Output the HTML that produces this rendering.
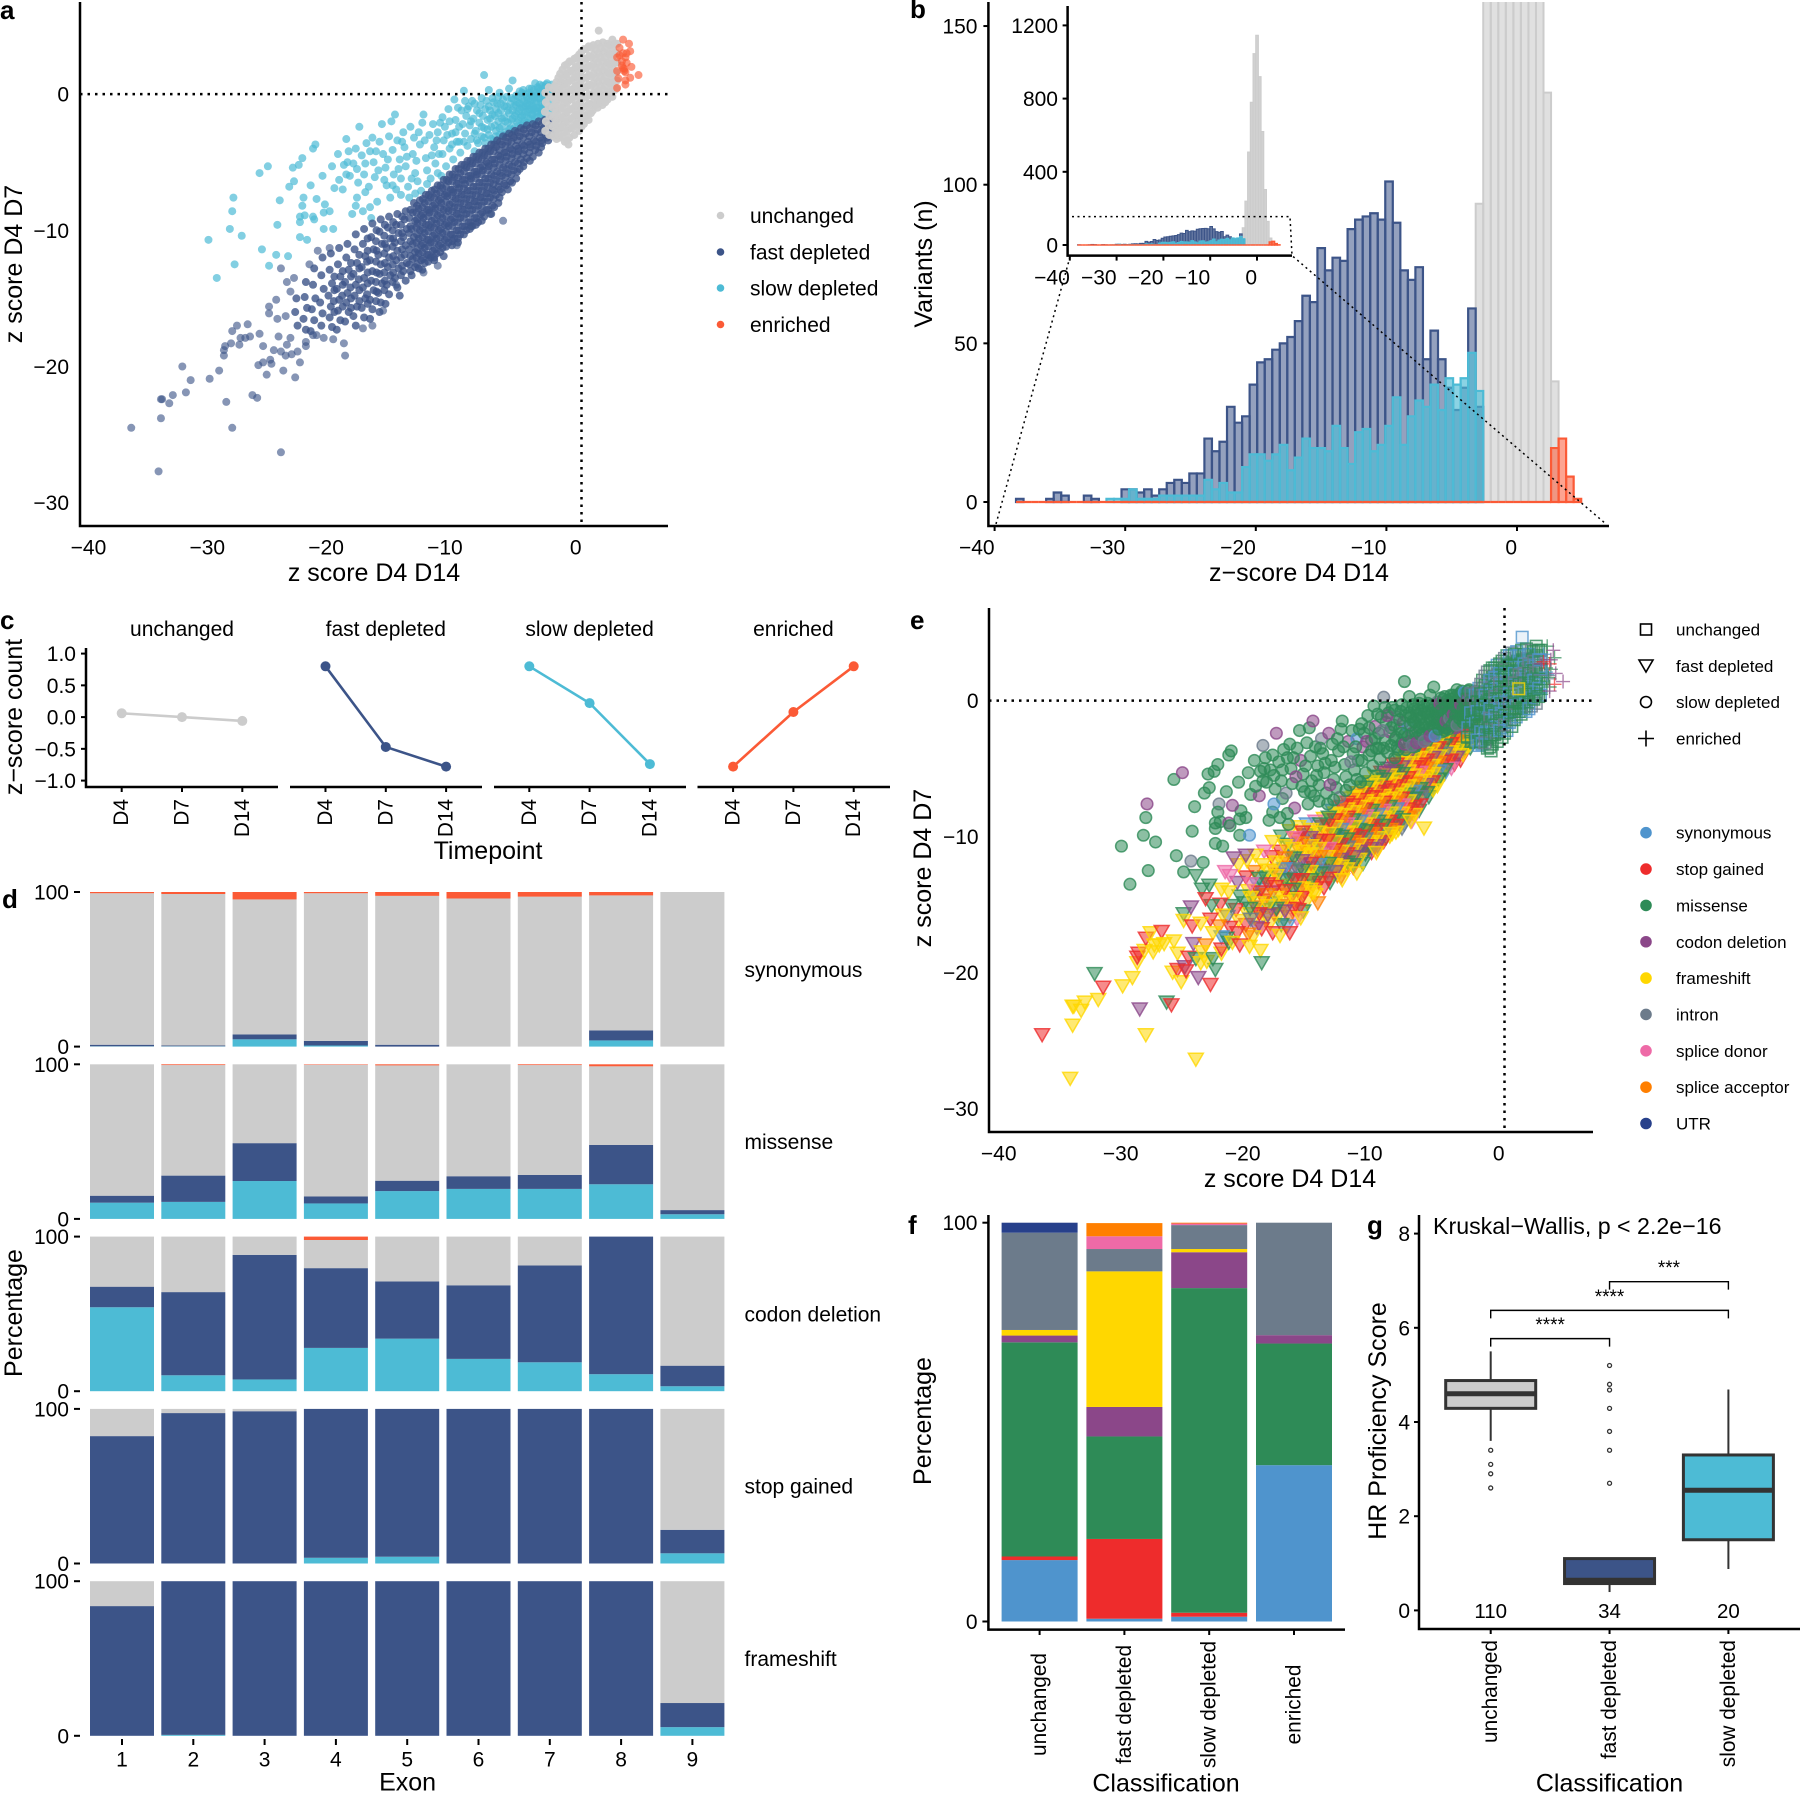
<!DOCTYPE html>
<html lang="en">
<head>
<meta charset="utf-8">
<title>Variant classification figure</title>
<style>
html,body{margin:0;padding:0;background:#fff;}
#figure{position:absolute;left:0;top:0;font-family:"Liberation Sans",sans-serif;fill:#000;}
.tl{font-size:25px;}
.lg{font-size:21px;}
.lg2{font-size:17px;}
.pl{font-size:26px;font-weight:bold;}
.ax{stroke:#000;stroke-width:2.5;fill:none;}
.dot{stroke:#000;stroke-width:2.5;stroke-dasharray:2.5 5;fill:none;}
.dot2{stroke:#000;stroke-width:1.5;stroke-dasharray:2 3.5;fill:none;}
</style>
</head>
<body>
<svg id="figure" width="1800" height="1793" viewBox="0 0 1800 1793" xmlns="http://www.w3.org/2000/svg">
<defs><clipPath id="histClip"><rect x="988" y="2" width="625" height="524"/></clipPath></defs>

<g id="pa">
<text class="pl" x="0" y="19">a</text>
<g id="paPts"></g>
<line class="dot" x1="80" y1="94.1" x2="668" y2="94.1"/>
<line class="dot" x1="581.5" y1="2" x2="581.5" y2="526"/>
<path class="ax" d="M80 2V526H668"/>
<text class="tl" x="374" y="573" text-anchor="middle" dominant-baseline="central">z score D4 D14</text>
<text class="tl" transform="translate(14,264) rotate(-90)" text-anchor="middle" dominant-baseline="central">z score D4 D7</text>
<g>
<circle cx="720.5" cy="215.5" r="3.8" fill="#cccccc"/>
<text class="lg" x="750" y="216.5" dominant-baseline="central">unchanged</text>
<circle cx="720.5" cy="252" r="3.8" fill="#3c5488"/>
<text class="lg" x="750" y="253" dominant-baseline="central">fast depleted</text>
<circle cx="720.5" cy="288" r="3.8" fill="#4dbbd5"/>
<text class="lg" x="750" y="289" dominant-baseline="central">slow depleted</text>
<circle cx="720.5" cy="324.5" r="3.8" fill="#fb5a36"/>
<text class="lg" x="750" y="325.5" dominant-baseline="central">enriched</text>
</g>
</g>

<g id="pb">
<text class="pl" x="910" y="18">b</text>
<g id="pbBars" clip-path="url(#histClip)"></g>
<g id="pbInset"></g>
<path class="dot2" d="M1072 216.6H1290L1292 255.6L1606 524M1070 257L996 524"/>
<path class="ax" d="M988.4 2V526H1609"/>
<path class="ax" d="M1067.6 6V255.6H1292"/>
<text class="tl" x="1299" y="573" text-anchor="middle" dominant-baseline="central">z−score D4 D14</text>
<text class="tl" transform="translate(924,264) rotate(-90)" text-anchor="middle" dominant-baseline="central">Variants (n)</text>
</g>

<g id="pc">
<text class="pl" x="0" y="629">c</text>
<path class="ax" d="M86 648V787H278M290 787H482M494 787H686M697.5 787H890"/>
<text class="tl" x="488" y="851" text-anchor="middle" dominant-baseline="central">Timepoint</text>
<text class="tl" transform="translate(14,717) rotate(-90)" text-anchor="middle" dominant-baseline="central">z−score count</text>
</g>

<g id="pd">
<text class="pl" x="2" y="908">d</text>
<text class="tl" transform="translate(14,1313) rotate(-90)" text-anchor="middle" dominant-baseline="central">Percentage</text>
<text class="tl" x="407.6" y="1782.5" text-anchor="middle" dominant-baseline="central">Exon</text>
</g>

<g id="pe">
<text class="pl" x="910" y="629">e</text>
<g id="pePts"></g>
<line class="dot" x1="989" y1="700.6" x2="1593" y2="700.6"/>
<line class="dot" x1="1504.5" y1="608" x2="1504.5" y2="1132"/>
<path class="ax" d="M989 608V1132H1593"/>
<text class="tl" x="1290" y="1179" text-anchor="middle" dominant-baseline="central">z score D4 D14</text>
<text class="tl" transform="translate(923,868) rotate(-90)" text-anchor="middle" dominant-baseline="central">z score D4 D7</text>
<g fill="none" stroke="#000" stroke-width="1.6">
<rect x="1640.5" y="624" width="11" height="11"/>
<path d="M1639 660L1653 660L1646 672Z"/>
<circle cx="1646" cy="702" r="5.5"/>
<path d="M1638 738.5H1654M1646 730.5V746.5"/>
</g>
<g class="lg2">
<text x="1676" y="630" dominant-baseline="central">unchanged</text>
<text x="1676" y="666.3" dominant-baseline="central">fast depleted</text>
<text x="1676" y="702.5" dominant-baseline="central">slow depleted</text>
<text x="1676" y="739" dominant-baseline="central">enriched</text>
</g>
<g id="peLegend" class="lg2"></g>
</g>

<g id="pf">
<text class="pl" x="908" y="1234">f</text>
<path class="ax" d="M988.4 1215V1629.6H1345"/>
<text class="tl" x="1166" y="1783.5" text-anchor="middle" dominant-baseline="central">Classification</text>
<text class="tl" transform="translate(923,1421) rotate(-90)" text-anchor="middle" dominant-baseline="central">Percentage</text>
</g>

<g id="pg">
<text class="pl" x="1367" y="1234">g</text>
<path class="ax" d="M1419 1215V1629H1800"/>
<text x="1433" y="1226" font-size="23.2" dominant-baseline="central">Kruskal−Wallis, p &lt; 2.2e−16</text>
<text class="tl" x="1609.5" y="1783.5" text-anchor="middle" dominant-baseline="central">Classification</text>
<text class="tl" transform="translate(1378,1421) rotate(-90)" text-anchor="middle" dominant-baseline="central">HR Proficiency Score</text>
</g>
</svg>

<script>
// ---------- shared categories ----------
const classColors = {unchanged:'#cccccc', fast:'#3c5488', slow:'#4dbbd5', enriched:'#fb5a36'};
const typeNames = ['synonymous','stop gained','missense','codon deletion','frameshift','intron','splice donor','splice acceptor','UTR'];
const typeColors = ['#4f94cd','#ee2c2c','#2e8b57','#8b4789','#ffd700','#6c7b8b','#ee6aa7','#ff7f00','#27408b'];

// ---------- panels a / e : z score D4 D14, z score D4 D7, (type) ----------
const fastSparse = [
-37.9,-24.5,1,-35.6,-27.7,4,-25.3,-26.3,4,-29.4,-24.5,4,-35.4,-23.8,4,-35.4,-22.4,4,-35.3,-22.4,4,-34.7,-22.7,4,-34.4,-22.1,4,-33.3,-21.9,4,-32.9,-21,1,-33.6,-20,2,-31.3,-20.9,4,-30.5,-20.3,4,-29.9,-22.6,3,-27.7,-22.1,2,-27.3,-22.3,1,
-30.1,-19.2,4,-30.1,-18.8,1,-30,-18.5,1,-29.5,-18.3,4,-29.4,-17.4,1,-29,-17,4,-28.1,-16.9,1,-28.8,-18.4,4,-28.7,-17.9,4,-28.3,-17.9,4,-27.9,-17.8,4,-27.1,-17.6,4,-26.8,-18.5,4,-27.2,-19.9,4,-26.8,-19.7,1,-26.5,-20.6,4,-26.2,-19.5,3,-26.1,-19.8,1,-25.1,-20.3,3,-24.1,-20.8,1,-23.7,-19.7,2,
-25.9,-18.8,1,-25.3,-18.9,2,-24.9,-19.2,4,-24.4,-19.1,4,-23.9,-18.9,2,-25.5,-17.8,3,-24.5,-17.9,7,-24.8,-18.4,4,-23.2,-18.5,4,-23.2,-18.2,1,-22.6,-17.7,2,-22.3,-17.7,4,-21.7,-17.9,1,-20.9,-18,4,-20,-18.3,4,-19.9,-19.2,2,
-26.3,-15.6,2,-26.3,-16.1,4,-25.7,-15.1,3,-25.6,-16.5,1,-24.9,-16.3,4,-24.8,-13.8,2,-24.2,-13.5,2,-25.3,-12.8,2,-24.5,-14.5,1,-22.9,-12.5,6,-22.2,-11.5,3,-21.2,-11.3,3,-18.4,-17.2,4,-17.6,-17,1,
-6.6,-9.3,4,-9.3,-9.7,4,-7.7,-8.8,4,-10.5,-11.1,4,-12.1,-12.6,4,-13.3,-13.1,4,-15.6,-14,4,-16.7,-15.9,4
];
const fastCore = [
-2.6,-1.8,-2.7,-2.3,-2.5,-2.9,-2.8,-3.4,-3.1,-1.9,-3.2,-2.5,-3,-3,-3.3,-3.6,-3.6,-2,-3.7,-2.6,-3.5,-3.2,-3.8,-3.8,-3.6,-4.3,
-4.1,-2.2,-4.2,-2.8,-4,-3.4,-4.3,-3.9,-4.1,-4.6,-4.6,-2.3,-4.7,-2.9,-4.5,-3.5,-4.8,-4.1,-4.6,-4.7,-4.9,-5.3,
-5.1,-2.5,-5.2,-3.1,-5,-3.7,-5.3,-4.2,-5.1,-4.8,-5.2,-5.5,-5.6,-2.7,-5.7,-3.2,-5.5,-3.8,-5.8,-4.4,-5.6,-5,-5.7,-5.6,-5.5,-6.2,
-6.1,-2.9,-6.2,-3.5,-6,-4,-6.3,-4.6,-6.1,-5.2,-6.2,-5.8,-6,-6.4,-6.2,-7,-6.6,-3.1,-6.7,-3.7,-6.5,-4.3,-6.8,-4.8,-6.6,-5.4,-6.7,-6,-6.5,-6.6,-6.7,-7.2,
-7.1,-3.4,-7.2,-3.9,-7,-4.5,-7.3,-5.1,-7.1,-5.7,-7.2,-6.3,-7,-6.8,-7.2,-7.4,-7,-8,-7.6,-3.7,-7.7,-4.2,-7.5,-4.8,-7.8,-5.3,-7.6,-5.9,-7.7,-6.5,-7.5,-7,-7.7,-7.6,-7.5,-8.2,-7.6,-8.8,
-8.1,-4,-8.2,-4.5,-8,-5,-8.3,-5.6,-8.1,-6.2,-8.2,-6.8,-8,-7.3,-8.2,-7.9,-8,-8.5,-8.2,-9,-8.6,-4.3,-8.7,-4.8,-8.5,-5.4,-8.8,-5.9,-8.6,-6.5,-8.7,-7.1,-8.5,-7.6,-8.7,-8.2,-8.5,-8.8,-8.7,-9.4,
-9.1,-4.6,-9.2,-5.1,-9,-5.7,-9.3,-6.2,-9.1,-6.8,-9.2,-7.4,-9,-7.9,-9.2,-8.5,-9,-9.1,-9.2,-9.7,-9.6,-4.9,-9.7,-5.4,-9.5,-6,-9.8,-6.6,-9.6,-7.1,-9.7,-7.7,-9.5,-8.2,-9.7,-8.8,-9.5,-9.4,-9.7,-10,
-10.1,-5.2,-10.2,-5.8,-10,-6.3,-10.3,-6.9,-10.1,-7.4,-10.2,-8,-10,-8.5,-10.2,-9.1,-10,-9.7,-10.2,-10.3,-10.4,-10.9,-10.6,-5.5,-10.7,-6.1,-10.5,-6.6,-10.8,-7.2,-10.6,-7.7,-10.7,-8.3,-10.5,-8.8,-10.7,-9.4,-10.5,-10,-10.7,-10.6,-10.9,-11.1,
-11.1,-5.9,-11.2,-6.4,-11,-7,-11.3,-7.5,-11.1,-8.1,-11.2,-8.6,-11,-9.2,-11.2,-9.7,-11,-10.3,-11.2,-10.9,-11.6,-6.3,-11.7,-6.9,-11.5,-7.4,-11.8,-8,-11.6,-8.5,-11.7,-9.1,-11.5,-9.6,-11.7,-10.2,-11.5,-10.7,-11.7,-11.3,-11.6,-11.9,
-12.1,-6.7,-12.2,-7.3,-12,-7.8,-12.3,-8.4,-12.1,-8.9,-12.2,-9.5,-12,-10,-12.2,-10.6,-12,-11.1,-12.2,-11.7,-12.4,-12.2,-12.6,-7.1,-12.7,-7.6,-12.5,-8.2,-12.8,-8.7,-12.6,-9.3,-12.7,-9.8,-12.5,-10.4,-12.7,-10.9,-12.5,-11.5,-12.7,-12,
-13.1,-7.4,-13.2,-8,-13,-8.5,-13.3,-9.1,-13.1,-9.6,-13.2,-10.2,-13,-10.7,-13.2,-11.3,-13,-11.8,-13.2,-12.4,-13.4,-12.9,-13.6,-7.8,-13.7,-8.4,-13.5,-8.9,-13.8,-9.5,-13.6,-10,-13.7,-10.6,-13.5,-11.1,-13.7,-11.7,-13.5,-12.2,-13.7,-12.8,
-14.1,-8,-14.2,-8.7,-14,-9.3,-14.3,-9.9,-14.1,-10.5,-14.2,-11,-14,-11.6,-14.2,-12.1,-14,-12.7,-14.3,-13.3,-14.8,-8.6,-14.9,-9.2,-14.7,-9.9,-15,-10.5,-14.8,-11.1,-14.9,-11.8,-14.7,-12.4,-15,-13,-14.8,-13.7,
-15.5,-8.8,-15.6,-9.6,-15.4,-10.2,-15.7,-10.9,-15.5,-11.5,-15.6,-12.2,-15.4,-12.8,-15.7,-13.5,-15.5,-14.2,-15.3,-14.8,-16.2,-9,-16.3,-9.8,-16.1,-10.6,-16.4,-11.3,-16.2,-12,-16.3,-12.7,-16.1,-13.3,-16.4,-14,-16.2,-14.7,-16.5,-15.4,
-16.9,-9.2,-17,-10.1,-16.8,-11,-17.1,-11.8,-16.9,-12.5,-17,-13.2,-16.8,-13.9,-17.1,-14.6,-16.9,-15.3,-17,-16,-17.6,-9.5,-17.7,-10.5,-17.5,-11.4,-17.8,-12.2,-17.6,-13,-17.7,-13.7,-17.5,-14.4,-17.8,-15.1,-17.6,-15.8,-17.8,-16.5,
-18.3,-9.9,-18.4,-11,-18.2,-11.9,-18.5,-12.7,-18.3,-13.5,-18.4,-14.2,-18.2,-15,-18.5,-15.7,-18.3,-16.4,-19,-10.3,-19.1,-11.4,-18.9,-12.4,-19.2,-13.2,-19,-14,-19.1,-14.8,-18.9,-15.6,-19.2,-16.3,-19,-17,
-19.7,-11,-19.8,-12,-19.6,-12.9,-19.9,-13.8,-19.7,-14.6,-19.8,-15.3,-19.6,-16,-19.9,-16.7,-20.4,-11.3,-20.5,-12.5,-20.3,-13.4,-20.6,-14.3,-20.4,-15.1,-20.5,-15.9,-20.3,-16.6,-20.6,-17.3,
-21.1,-11.7,-21.2,-12.9,-21,-13.9,-21.3,-14.8,-21.1,-15.6,-21.2,-16.4,-21,-17.1,-21.8,-12,-21.9,-13.3,-21.7,-14.3,-22,-15.3,-21.8,-16.1,-21.9,-17,
-22.5,-12.8,-22.6,-14,-22.4,-15,-22.7,-15.8,-22.5,-16.6,-22.8,-17.4,-23.2,-13.8,-23.3,-14.9,-23.1,-15.7,-23.4,-16.5,-23.2,-17.3,-24,-15,-24.1,-16,-23.9,-17,
-2.85,-2.1,-2.85,-2.7,-2.9,-3.2,-3.35,-2.2,-3.4,-2.8,-3.35,-3.4,-3.4,-3.9,-3.85,-2.3,-3.9,-2.9,-3.85,-3.5,-3.9,-4.1,-4.35,-2.5,-4.4,-3.1,-4.35,-3.7,-4.4,-4.3,-4.35,-4.9,
-4.85,-2.6,-4.9,-3.2,-4.85,-3.8,-4.9,-4.4,-4.85,-5,-5.35,-2.8,-5.4,-3.4,-5.35,-4,-5.4,-4.5,-5.35,-5.1,-5.4,-5.7,-5.85,-3,-5.9,-3.5,-5.85,-4.1,-5.9,-4.7,-5.85,-5.3,-5.9,-5.9,-5.85,-6.5,
-6.35,-3.2,-6.4,-3.8,-6.35,-4.3,-6.4,-4.9,-6.35,-5.5,-6.4,-6.1,-6.35,-6.7,-6.85,-3.5,-6.9,-4.1,-6.85,-4.6,-6.9,-5.2,-6.85,-5.8,-6.9,-6.4,-6.85,-7,-6.9,-7.6,
-7.35,-3.7,-7.4,-4.2,-7.35,-4.8,-7.4,-5.4,-7.35,-6,-7.4,-6.6,-7.35,-7.1,-7.4,-7.7,-7.35,-8.3,-7.85,-4,-7.9,-4.5,-7.85,-5.1,-7.9,-5.6,-7.85,-6.2,-7.9,-6.8,-7.85,-7.3,-7.9,-7.9,-7.85,-8.5,
-8.35,-4.3,-8.4,-4.8,-8.35,-5.3,-8.4,-5.9,-8.35,-6.5,-8.4,-7.1,-8.35,-7.6,-8.4,-8.2,-8.35,-8.7,-8.4,-9.3,-8.85,-4.6,-8.9,-5.1,-8.85,-5.7,-8.9,-6.2,-8.85,-6.8,-8.9,-7.4,-8.85,-7.9,-8.9,-8.5,-8.85,-9.1,-8.9,-9.6,
-9.35,-4.9,-9.4,-5.4,-9.35,-6,-9.4,-6.5,-9.35,-7.1,-9.4,-7.7,-9.35,-8.2,-9.4,-8.8,-9.35,-9.4,-9.4,-9.9,-9.85,-5.2,-9.9,-5.7,-9.85,-6.3,-9.9,-6.9,-9.85,-7.4,-9.9,-8,-9.85,-8.5,-9.9,-9.1,-9.85,-9.7,-9.9,-10.3,
-10.35,-5.5,-10.4,-6.1,-10.35,-6.6,-10.4,-7.2,-10.35,-7.7,-10.4,-8.3,-10.35,-8.8,-10.4,-9.4,-10.35,-10,-10.4,-10.6,-10.85,-5.9,-10.9,-6.4,-10.85,-7,-10.9,-7.5,-10.85,-8,-10.9,-8.6,-10.85,-9.1,-10.9,-9.7,-10.85,-10.3,-10.9,-10.8,
-11.35,-6.3,-11.4,-6.8,-11.35,-7.3,-11.4,-7.9,-11.35,-8.4,-11.4,-9,-11.35,-9.5,-11.4,-10.1,-11.35,-10.6,-11.4,-11.2,-11.85,-6.7,-11.9,-7.2,-11.85,-7.7,-11.9,-8.3,-11.85,-8.8,-11.9,-9.4,-11.85,-9.9,-11.9,-10.5,-11.85,-11,-11.9,-11.6,
-12.35,-7,-12.4,-7.6,-12.35,-8.1,-12.4,-8.7,-12.35,-9.2,-12.4,-9.8,-12.35,-10.3,-12.4,-10.9,-12.35,-11.4,-12.4,-12,-12.85,-7.4,-12.9,-7.9,-12.85,-8.5,-12.9,-9,-12.85,-9.6,-12.9,-10.1,-12.85,-10.7,-12.9,-11.2,-12.85,-11.8,-12.9,-12.3,
-13.35,-7.7,-13.4,-8.3,-13.35,-8.8,-13.4,-9.4,-13.35,-9.9,-13.4,-10.5,-13.35,-11,-13.4,-11.6,-13.35,-12.1,-13.85,-8.2,-13.9,-8.7,-13.85,-9.2,-13.9,-9.8,-13.85,-10.3,-13.9,-10.9,-13.85,-11.4,-13.9,-12,-13.85,-12.5,
-14.4,-8.5,-14.5,-9.1,-14.4,-9.7,-14.5,-10.2,-14.4,-10.8,-14.5,-11.4,-14.4,-11.9,-14.5,-12.5,-14.4,-13,-15.1,-9,-15.2,-9.6,-15.1,-10.2,-15.2,-10.8,-15.1,-11.4,-15.2,-12,-15.1,-12.6,-15.2,-13.3,
-15.85,-9.4,-15.9,-10,-15.85,-10.6,-15.9,-11.2,-15.85,-11.9,-15.9,-12.5,-15.85,-13.1,-15.9,-13.8,-16.55,-9.6,-16.6,-10.4,-16.55,-11,-16.6,-11.7,-16.55,-12.4,-16.6,-13.1,-16.55,-13.7,-16.6,-14.4,
-17.25,-10,-17.3,-10.8,-17.25,-11.5,-17.3,-12.3,-17.25,-13.1,-17.3,-13.8,-17.25,-14.5,-17.3,-15.2,-18,-10.6,-18,-11.5,-18.05,-12.3,-18,-13.1,-18,-13.9,-18.05,-14.7,-18,-15.4,
-18.7,-11.8,-18.7,-12.8,-18.75,-13.6,-18.7,-14.4,-18.7,-15.2,-19.4,-12.4,-19.4,-13.4,-19.45,-14.2,-19.4,-15,-19.4,-15.7,-20.1,-13,-20.1,-14,-20.15,-14.8,-20.1,-15.6,-20.8,-13.4,-20.8,-14.4,-20.85,-15.2,-20.8,-16
];
const fastCoreTypes = '41424174321416425124147021434';
const slowPoints = [
-30.7,-13.5,-31.4,-10.7,-29.6,-9.9,-29.4,-8.6,-29.3,-7.6,-28.6,-10.4,-29.2,-12.5,-26.9,-11.4,-26.3,-12.6,-25.7,-11.8,-24.7,-11.9,-25.6,-9.6,-25.4,-7.8,-27.1,-5.8,-26.4,-5.3,-24.6,-6.8,-24.2,-6.4,-24.3,-5.4,-23.8,-5.2,-23.5,-4.7,-23.4,-7.6,-23.5,-8.2,-23.7,-9,-23.7,-9.4,-23.3,-8.9,-22.6,-9,-22.5,-9.2,-23.7,-10.5,-23.1,-10.7,-21.7,-9.9,-20.9,-9.9,-21.7,-8.7,-21.2,-8.6,-21.6,-8.1,-22.3,-7.7,-22.8,-6.7,-22.4,-3.7,-22.6,-4,-21.8,-6,-21,-5.3,-20.5,-4.4,-20.8,-6.9,-20.1,-7,-20.4,-6.3,-20,-5.2,-19.7,-5,-19.8,-5.9,
-19.8,-3.3,-19.6,-4.2,-19.2,-5.1,-19.5,-6,-18.9,-5.5,-18.7,-2.4,-18.5,-4.5,-18.8,-6.5,-18.3,-5.9,-18.1,-3.6,-18.2,-7.2,-17.9,-6.8,-17.8,-4.2,-17.6,-3.2,-17.5,-5,-17.4,-6.1,-17.2,-7.9,-17.8,-8.3,-19,-8.2,-19.3,-8.8,-18.4,-8.6,-18.9,-7.6,-17.7,-9.1,
-17,-3.5,-16.8,-2.2,-16.7,-4.4,-16.5,-5.4,-16.4,-6.7,-16.2,-3.1,-16.1,-7.6,-16,-2,-15.9,-4.1,-15.8,-5.9,-15.7,-1.5,-15.6,-7,-15.5,-3.4,-15.3,-4.8,-15.2,-6.2,-15,-2.8,-14.9,-3.9,-14.8,-5.3,-14.6,-6.8,-14.5,-7.6,-14.4,-2.4,-14.2,-4.4,-14.1,-3.2,-14,-5.8,-13.8,-6.4,-13.6,-3.7,-13.5,-7.1,-13.4,-2.1,-13.3,-1.5,-13.1,-4.7,-13,-5.6,-12.8,-3,-12.7,-6.2,-12.5,-2.2,-12.4,-3.9,-12.3,-5.1,-12.1,-2.8,-12,-4.4,-11.8,-6,-11.7,-1.7,-11.6,-3.4,-11.5,-2.4,-11.4,-5.3,-11.2,-1.1,-11.1,-4,-10.9,-2.9,-10.8,-4.8,-10.7,-.4,-10.6,-1.9,-10.5,-3.5,-10.3,-2.4,-10.2,-4.3,-10.1,-1.2,
-9.9,.25,-9.8,-2.9,-9.7,-1.6,-9.6,-3.8,-9.5,-.9,-9.4,-2.3,-9.3,-3.3,-9.2,-.5,-9.1,-1.8,-9,-4.2,-8.9,-2.7,-8.8,-1.2,-8.7,-3.6,-8.6,-2.1,-8.5,-.8,-8.4,-3.1,-8.3,-1.6,-8.2,1.4,-8.2,-2.5,-8.1,-3.6,-8,-.5,-7.9,-1.9,-7.8,.3,-7.8,-3,-7.7,-1.2,-7.6,-2.4,-7.5,-.3,-7.4,-3.4,-7.3,-1.6,-7.2,-2.7,-7.1,-.7,-7,-2,-6.9,.1,-6.9,-3,-6.8,-1.2,-6.7,-2.4,-6.6,-.4,-6.5,-1.7,-6.4,-2.8,-6.3,-.9,-6.2,-2.1,-6.1,.4,-6.1,-1.4,-6,-2.5,-5.9,-.3,-5.8,1,-5.8,-1.8,-5.7,-.9,-5.6,-2.4,-5.5,-.1,-5.5,-1.4,-5.4,-.6,-5.3,-1.9,-5.2,.2,-5.2,-1.1,-5.1,-2.3,-5,-.4,-5,-1.6,-4.9,.3,-4.9,-.9,-4.8,-2,-4.7,-1.3,-4.6,-.2,-4.6,-.7,-4.5,-1.8,-4.4,.1,-4.4,-1.1,-4.3,-.5,-4.2,-1.5,-4.2,.4,-4.1,-.9,-4,-2,-4,-.2,-3.9,.8,-3.9,-1.3,-3.8,.1,-3.8,-.6,-3.7,-1.7,-3.6,.4,-3.6,-1,-3.5,.7,-3.5,-.3,-3.4,-1.4,-3.3,.2,-3.3,-.7,-3.2,-1.1,-3.1,.5,-3.1,-.1,-3,-.5,-3,-1.5,-2.9,.8,-2.9,.2,-2.8,-.2,-2.8,-.9,-2.7,.5,-2.7,-1.3,-2.6,.1,-2.6,-.5,-2.5,.7,-2.5,-.1,-2.5,-1,
-9.6,-1.1,-9.3,-2,-9,-.7,-9,-2.9,-8.8,-3.4,-8.6,-1.4,-8.4,-.3,-8.4,-2.4,-8.2,-3.2,-8.1,-1.1,-7.9,-2.6,-7.8,-.9,-7.7,-1.8,-7.6,-3.3,-7.5,-1.5,-7.4,-.6,-7.3,-2.3,-7.2,-1.1,-7.2,-3.1,-7,-.2,-7,-1.4,-6.9,-2.5,-6.8,-.7,-6.7,-1.8,-6.6,-3,-6.5,-.9,-6.4,-2,-6.3,-.2,-6.2,-1.2,-6.1,-2.6,-6,-.7,-5.9,-1.9,-5.8,-1.2,-5.7,-.4,-5.7,-2.6,-5.6,-1.6,-5.5,-.8,-5.4,-2.1,-5.3,-.2,-5.3,-1.3,-5.2,-.7,-5.1,-1.7,-5,.1,-5,-1,-4.9,-2.2,-4.8,-.5,-4.8,-1.5,-4.7,0,-4.7,-.9,-4.6,-2.1,-4.5,-.4,-4.5,-1.3,-4.4,.4,-4.4,-.8,-4.3,-1.8,-4.2,-.1,-4.2,-1,-4.1,-.4,-4.1,-1.5,-4,.3,-4,-1.1,-3.9,-.5,-3.9,-1.8,-3.8,-.1,-3.8,-1,-3.7,.5,-3.7,-1.3,-3.6,-.3,-3.5,-1.1,-3.5,.2,-3.4,-.6,-3.4,-1.6,-3.3,.6,-3.3,-1.1,-3.2,-.3,-3.2,-1.4,-3.1,.1,-3.1,-.8,-3,.7,
-17.3,-4.2,-16.3,-4.8,-15.4,-5.5,-15.1,-3.5,-14.7,-4.6,-14.3,-6.2,-13.9,-4.9,-13.7,-2.8,-13.2,-3.4,-13,-6.6,-12.6,-4.5,-12.2,-3.4,-12.1,-5.8,-11.9,-2.1,-11.7,-4.4,-11.3,-3,-11.1,-2,-10.9,-3.7,-10.6,-2.8,-10.4,-1,-10.3,-3.5,-10,-2.2,-9.9,-3.5,-9.8,-.5,-19,-4,-18.2,-5.1,-17.1,-5.6,-16.6,-6.3,-15.9,-6.7,-15.2,-7.4,-14,-7.3
];
const slowTypes = '22223222252222322222522223222202223222';
const unchangedPoints = [
-3.05,.1,-3,-.6,-3.08,-1.3,-3,-2,-3.05,-2.7,-2.75,.5,-2.72,-.2,-2.78,-.9,-2.7,-1.6,-2.76,-2.3,-2.72,-3,
-2.4,.4,-2.35,-.3,-2.42,-1,-2.38,-1.7,-2.4,-2.4,-2.36,-3.1,-2.1,.9,-2.05,.2,-2.12,-.5,-2.08,-1.2,-2.1,-1.9,-2.06,-2.6,-2.1,-3.3,
-1.8,1.5,-1.75,.9,-1.82,.3,-1.78,-.4,-1.8,-1.1,-1.76,-1.8,-1.8,-2.5,-1.84,-3.2,-1.4,2.1,-1.35,1.4,-1.42,.7,-1.38,0,-1.4,-.7,-1.36,-1.4,-1.4,-2.1,-1.44,-2.8,-1.4,-3.5,
-1,2.4,-.95,1.7,-1.02,1,-.98,.3,-1,-.4,-.96,-1.1,-1,-1.8,-1.04,-2.5,-1,-3.2,-1.1,-3.7,-.6,2.6,-.55,1.9,-.62,1.2,-.58,.5,-.6,-.2,-.56,-.9,-.6,-1.6,-.64,-2.3,-.6,-3,
-.2,2.9,-.15,2.2,-.22,1.5,-.18,.8,-.2,.1,-.16,-.6,-.2,-1.3,-.24,-2,-.2,-2.7,.2,3.3,.25,2.6,.18,1.9,.22,1.2,.2,.5,.24,-.2,.2,-.9,.16,-1.6,.2,-2.2,
.6,3.5,.65,2.8,.58,2.1,.62,1.4,.6,.7,.64,0,.6,-.7,.56,-1.4,.6,-1.9,1,3.6,1.05,2.9,.98,2.2,1.02,1.5,1,.8,1.04,.1,1,-.6,.96,-1.2,
1.4,3.7,1.45,3,1.38,2.3,1.42,1.6,1.4,.9,1.44,.2,1.4,-.5,1.36,-1,1.45,4.66,1.8,3.8,1.85,3.1,1.78,2.4,1.82,1.7,1.8,1,1.84,.3,1.8,-.4,1.76,-.8,
2.2,3.7,2.25,3,2.18,2.3,2.22,1.6,2.2,.9,2.24,.2,2.2,-.4,2.6,4,2.65,3.3,2.58,2.6,2.62,1.9,2.6,1.2,2.64,.5,2.6,-.2,3,3.7,2.95,3,3,2.3,2.96,1.6,3,1,2.95,.4,
-2.25,.6,-2.25,-.1,-2.25,-.8,-2.25,-1.5,-2.25,-2.2,-2.25,-2.9,-1.95,1.2,-1.95,.5,-1.95,-.2,-1.95,-.9,-1.95,-1.6,-1.95,-2.3,-1.95,-3,
-1.6,1.8,-1.6,1.1,-1.6,.4,-1.6,-.3,-1.6,-1,-1.6,-1.7,-1.6,-2.4,-1.6,-3.1,-1.2,2.2,-1.2,1.5,-1.2,.8,-1.2,.1,-1.2,-.6,-1.2,-1.3,-1.2,-2,-1.2,-2.7,-1.2,-3.4,
-.8,2.4,-.8,1.7,-.8,1,-.8,.3,-.8,-.4,-.8,-1.1,-.8,-1.8,-.8,-2.5,-.4,2.7,-.4,2,-.4,1.3,-.4,.6,-.4,-.1,-.4,-.8,-.4,-1.5,-.4,-2.2,
0,3.1,0,2.4,0,1.7,0,1,0,.3,0,-.4,0,-1.1,0,-1.8,0,-2.4,.4,3.3,.4,2.6,.4,1.9,.4,1.2,.4,.5,.4,-.2,.4,-.9,.4,-1.6,
.8,3.4,.8,2.7,.8,2,.8,1.3,.8,.6,.8,-.1,.8,-.8,.8,-1.4,1.2,3.3,1.2,2.6,1.2,1.9,1.2,1.2,1.2,.5,1.2,-.2,1.2,-.8,
1.6,3.4,1.6,2.7,1.6,2,1.6,1.3,1.6,.6,1.6,-.1,1.6,-.6,2,3.4,2,2.7,2,2,2,1.3,2,.6,2,-.1,2,-.6,
2.4,3.6,2.4,2.9,2.4,2.2,2.4,1.5,2.4,.8,2.4,.1,2.8,3.7,2.8,3,2.8,2.3,2.8,1.6,2.8,.9,2.8,.3
];
const unchangedTypes = '22202520222052022052';
const unchangedFrameshift = [1.17,.87];
const enrichedPoints = [
3.5,4,4,3.7,4.1,3.15,3.2,3.4,3.5,3,3,2.7,3.7,2.7,3.4,2.4,3.8,2.3,4.2,2,3,1.7,3.5,1.9,3.7,1.6,4.8,1.4,4.1,1.2,3.7,1,3.1,1.15,3.7,.7,3,.45,3.4,2.1,3.6,1.85,3.8,3,3.2,2.85,3.6,1.7
];
const enrichedTypes = '23205312';
const aXTicks = [-40,-30,-20,-10,0];
const aXLabels = ['−40','−30','−20','−10','0'];
const aYTicks = [0,-10,-20,-30];
const aYLabels = ['0','−10','−20','−30'];

// ---------- panel b : histogram counts per bin ----------
const histStart = -38.36;
const histBinWidth = 0.577;
const fastCounts = [1,0,0,0,1,3,2,0,0,2,1,0,0,0,4,4,3,4,2,4,6,7,6,9,9,20,16,19,30,25,27,37,44,45,48,50,52,57,65,63,80,73,77,76,86,89,90,91,89,101,88,73,70,74,45,54,45,36,29,36,61,30,0,0,0,0,0,0,0,0,0,0,0,0,0];
const slowCounts = [0,0,0,0,0,0,0,0,0,0,0,0,1,1,1,4,1,1,1,2,2,2,2,2,2,7,4,6,3,3,11,15,15,13,15,18,10,14,20,17,17,16,24,17,12,22,23,16,18,24,33,18,27,32,30,37,29,39,37,39,47,35,0,0,0,0,0,0,0,0,0,0,0,0,0];
const unchangedCounts = [0,0,0,0,0,0,0,0,0,0,0,0,0,0,0,0,0,0,0,0,0,0,0,0,0,0,0,0,0,0,0,0,0,0,0,0,0,0,0,0,0,0,0,0,0,0,0,0,0,0,0,0,0,0,0,0,0,0,0,0,0,94,240,508,780,1046,1146,920,620,303,129,38,0,0,0];
const enrichedCounts = [0,0,0,0,0,0,0,0,0,0,0,0,0,0,0,0,0,0,0,0,0,0,0,0,0,0,0,0,0,0,0,0,0,0,0,0,0,0,0,0,0,0,0,0,0,0,0,0,0,0,0,0,0,0,0,0,0,0,0,0,0,0,0,0,0,0,0,0,0,0,0,17,20,8,1];
const bXTicks = [-40,-30,-20,-10,0];
const bXLabels = ['−40','−30','−20','−10','0'];
const bYTicks = [0,50,100,150];
const bInsetYTicks = [0,400,800,1200];

// ---------- panel c : mean z-score count per timepoint ----------
const cTimepoints = ['D4','D7','D14'];
const cFacets = ['unchanged','fast depleted','slow depleted','enriched'];
const cUnchanged = [0.06,0,-0.06];
const cFast = [0.8,-0.47,-0.78];
const cSlow = [0.8,0.22,-0.74];
const cEnriched = [-0.78,0.08,0.8];
const cYTicks = [1,0.5,0,-0.5,-1];
const cYLabels = ['1.0','0.5','0.0','−0.5','−1.0'];

// ---------- panel d : percent per exon ----------
const dExons = ['1','2','3','4','5','6','7','8','9'];
const dRows = ['synonymous','missense','codon deletion','stop gained','frameshift'];
const dSlow = [
[.2,.2,4.7,.7,0,0,0,4,0],
[10.5,11,24.5,10,18,19.4,19.4,22.4,3],
[54.3,10.3,7.6,28,34,20.9,18.7,11,3.2],
[0,0,0,3.7,4.4,0,0,0,6.6],
[0,.6,0,0,0,0,0,0,5.6]];
const dFast = [
[1,.5,3.2,3,1.2,0,0,6.5,0],
[4.5,17,24.5,4.5,6.7,8.2,9,25.4,2.7],
[13.3,53.8,80.6,51.6,37,47.6,62.6,89,13.3],
[82.4,97.3,98.5,96.3,95.6,100,100,100,15.2],
[83.9,99.4,100,100,100,100,100,100,15.6]];
const dEnriched = [
[.8,1.3,4.8,.8,2.5,4.2,3,2.2,0],
[0,.5,0,.3,.7,0,.5,1.3,0],
[0,0,0,2.2,0,0,0,0,0],
[0,0,0,0,0,0,0,0,0],
[0,0,0,0,0,0,0,0,0]];

// ---------- panel f : type composition per class (order of typeNames) ----------
const fClasses = ['unchanged','fast depleted','slow depleted','enriched'];
const fUnchanged = [15.4,.9,53.7,1.7,1.4,24.4,0,0,2.5];
const fFast = [.7,20,25.7,7.4,34,5.6,3.2,3.3,0];
const fSlow = [1.2,1,81.4,9,.8,6,.4,.2,0];
const fEnriched = [39.2,0,30.5,2.1,0,28.2,0,0,0];

// ---------- panel g : HR proficiency box plots ----------
const gClasses = ['unchanged','fast depleted','slow depleted'];
const gCounts = ['110','34','20'];
const gQ1 = [4.29,.57,1.5];
const gMedian = [4.6,.64,2.55];
const gQ3 = [4.88,1.1,3.3];
const gLow = [3.6,.39,.88];
const gHigh = [5.5,1.1,4.69];
const gOutliers = [[3.4,3.1,2.9,2.6],[5.2,4.8,4.68,4.29,3.8,3.4,2.7],[]];
const gYTicks = [0,2,4,6,8];
const gBracketFrom = [0,0,1];
const gBracketTo = [1,2,2];
const gBracketY = [5.77,6.37,6.98];
const gBracketStars = ['****','****','***'];

// ---------- helpers ----------
const NS = 'http://www.w3.org/2000/svg';
function add(parent, tag, attrs, txt) {
  const el = document.createElementNS(NS, tag);
  for (const k in attrs) el.setAttribute(k, attrs[k]);
  if (txt !== undefined) el.textContent = txt;
  parent.appendChild(el);
  return el;
}
function yAxis(g, prefix, vals, labels, scale, axisX, labelX, tickLen, fs) {
  vals.forEach((v, i) => {
    if (tickLen) {
      const t = add(g, 'line', {x1: axisX - tickLen, x2: axisX, y1: scale(v), y2: scale(v), stroke: '#000', 'stroke-width': 2});
      
      
    }
    const l = add(g, 'text', {x: labelX, y: scale(v) + 1, 'text-anchor': 'end', 'dominant-baseline': 'central', 'font-size': fs}, labels[i]);
    
    
  });
}
function xAxis(g, prefix, vals, labels, scale, axisY, labelY, tickLen, fs) {
  vals.forEach((v, i) => {
    if (tickLen) {
      const t = add(g, 'line', {x1: scale(v), x2: scale(v), y1: axisY, y2: axisY + tickLen, stroke: '#000', 'stroke-width': 2});
      
      
    }
    const l = add(g, 'text', {x: scale(v), y: labelY, 'text-anchor': 'end', 'dominant-baseline': 'central', 'font-size': fs}, labels[i]);
    
    
  });
}
function rotTick(g, prefix, x, axisY, labelY, anchor, label) {
  const t = add(g, 'line', {x1: x, x2: x, y1: axisY, y2: axisY + 5, stroke: '#000', 'stroke-width': 2});
  
  
  const l = add(g, 'text', {transform: 'translate(' + x + ',' + labelY + ') rotate(-90)', 'text-anchor': anchor, 'dominant-baseline': 'central', 'font-size': 20.8}, label);
  
  
}

// ---------- panel a ----------
const aX = z => 581.5 + 11.88 * z;
const aY = z => 94.1 - 13.62 * z;
const paPts = document.getElementById('paPts');
function dotsA(pts, step, color, opacity) {
  for (let i = 0; i < pts.length; i += step) {
    const c = add(paPts, 'circle', {cx: aX(pts[i]), cy: aY(pts[i + 1]), r: 4, fill: color, 'fill-opacity': opacity});
    
    
  }
}
dotsA(slowPoints, 2, classColors.slow, .7);
dotsA(fastCore, 2, classColors.fast, .8);
dotsA(fastSparse, 3, classColors.fast, .62);
dotsA(unchangedPoints, 2, classColors.unchanged, .95);
dotsA(enrichedPoints, 2, classColors.enriched, .65);
const pa = document.getElementById('pa');
xAxis(pa, 'a', aXTicks, aXLabels, aX, 526, 548, 0, 21);
yAxis(pa, 'a', aYTicks, aYLabels, aY, 80, 69, 0, 21);

// ---------- panel b ----------
const bX = z => 1517 + 13.06 * z;
const bY = n => 502 - 3.173 * n;
const insetX = z => 1257 + 4.68 * z;
const insetY = n => 245 - 0.183 * n;
function histogram(g, counts, color, fill, opacity, xs, ys, sw, skipZero) {
  counts.forEach((n, i) => {
    if (skipZero && n === 0) return;
    const x0 = xs(histStart + i * histBinWidth);
    const x1 = xs(histStart + (i + 1) * histBinWidth);
    const r = add(g, 'path', {d: 'M' + x0 + ' ' + ys(0) + 'V' + ys(n) + 'H' + x1 + 'V' + ys(0) + 'Z', fill: fill, 'fill-opacity': opacity, stroke: color, 'stroke-width': sw});
    
    
  });
}
const pbBars = document.getElementById('pbBars');
histogram(pbBars, unchangedCounts, classColors.unchanged, classColors.unchanged, .6, bX, bY, 2, true);
histogram(pbBars, fastCounts, classColors.fast, classColors.fast, .55, bX, bY, 2.2, true);
histogram(pbBars, slowCounts, classColors.slow, classColors.slow, .65, bX, bY, 2.2, true);
histogram(pbBars, enrichedCounts, classColors.enriched, classColors.enriched, .55, bX, bY, 2.2, false);
const pbInset = document.getElementById('pbInset');
histogram(pbInset, unchangedCounts, classColors.unchanged, classColors.unchanged, .9, insetX, insetY, 1, true);
histogram(pbInset, fastCounts, classColors.fast, classColors.fast, .8, insetX, insetY, 1, true);
histogram(pbInset, slowCounts, classColors.slow, classColors.slow, .9, insetX, insetY, 1, true);
histogram(pbInset, enrichedCounts, classColors.enriched, classColors.enriched, .8, insetX, insetY, 1.4, false);
const pb = document.getElementById('pb');
xAxis(pb, 'b', bXTicks, bXLabels, bX, 526, 548, 5, 21);
yAxis(pb, 'b', bYTicks, bYTicks.map(String), bY, 988.4, 977.5, 5, 21);
xAxis(pb, 'b-inset', bXTicks, bXLabels, insetX, 255.6, 278, 5, 21);
yAxis(pb, 'b-inset', bInsetYTicks, bInsetYTicks.map(String), insetY, 1067.6, 1058, 5, 21);

// ---------- panel c ----------
const cX = (f, i) => 121.7 + 203.8 * f + 60.3 * i;
const cY = v => 717.1 - 63.5 * v;
const pc = document.getElementById('pc');
yAxis(pc, 'c', cYTicks, cYLabels, cY, 86, 76, 5, 21);
[cUnchanged, cFast, cSlow, cEnriched].forEach((series, f) => {
  const color = [classColors.unchanged, classColors.fast, classColors.slow, classColors.enriched][f];
  const strip = add(pc, 'text', {x: cX(f, 1), y: 629.5, 'text-anchor': 'middle', 'dominant-baseline': 'central', 'font-size': 21}, cFacets[f]);
  
  
  const line = add(pc, 'polyline', {points: series.map((v, i) => cX(f, i) + ',' + cY(v)).join(' '), fill: 'none', stroke: color, 'stroke-width': 2.6});
  
  
  series.forEach((v, i) => {
    const p = add(pc, 'circle', {cx: cX(f, i), cy: cY(v), r: 5, fill: color});
    
    
    rotTick(pc, 'c', cX(f, i), 787, 799, 'end', cTimepoints[i]);
  });
});

// ---------- panel d ----------
const pd = document.getElementById('pd');
const dColX = i => 90 + 71.3 * i;
const dRowY = (r, pct) => 892 + 172.3 * r + 154.6 * (1 - pct / 100);
dRows.forEach((name, r) => {
  yAxis(pd, 'd', [0, 100], ['0', '100'], p => dRowY(r, p), 80, 69, 6, 21);
  const lab = add(pd, 'text', {x: 744.5, y: dRowY(r, 50) + 1, 'dominant-baseline': 'central', 'font-size': 21}, name);
  
  
  dExons.forEach((ex, c) => {
    const s = dSlow[r][c], f = dFast[r][c], e = dEnriched[r][c];
    const segs = [[0, s, classColors.slow], [s, s + f, classColors.fast], [s + f, 100 - e, classColors.unchanged], [100 - e, 100, classColors.enriched]];
    segs.forEach(seg => {
      if (seg[1] <= seg[0]) return;
      const b = add(pd, 'rect', {x: dColX(c), y: dRowY(r, seg[1]), width: 64, height: dRowY(r, seg[0]) - dRowY(r, seg[1]), fill: seg[2]});
      
      
    });
  });
});
dExons.forEach((ex, c) => {
  const t = add(pd, 'line', {x1: dColX(c) + 32, x2: dColX(c) + 32, y1: 1739, y2: 1745, stroke: '#000', 'stroke-width': 2});
  
  
  const l = add(pd, 'text', {x: dColX(c) + 32, y: 1760, 'text-anchor': 'middle', 'dominant-baseline': 'central', 'font-size': 21}, ex);
  
  
});

// ---------- panel e ----------
const eX = z => 1504.5 + 12.2 * z;
const eY = z => 700.6 - 13.6 * z;
const pePts = document.getElementById('pePts');
function markerStyle(t) {
  return {fill: typeColors[t], 'fill-opacity': .55, stroke: typeColors[t], 'stroke-width': 1.5, 'stroke-opacity': .8};
}
function eCircle(x, y, t) {
  const m = add(pePts, 'circle', Object.assign({cx: eX(x), cy: eY(y), r: 5.8}, markerStyle(t)));
  
  
}
function eTriangle(x, y, t) {
  const px = eX(x), py = eY(y);
  const m = add(pePts, 'path', Object.assign({d: 'M' + (px - 7.5) + ' ' + (py - 5) + 'L' + (px + 7.5) + ' ' + (py - 5) + 'L' + px + ' ' + (py + 8) + 'Z'}, markerStyle(t)));
  
  
}
function eSquare(x, y, t) {
  const m = add(pePts, 'rect', Object.assign({x: eX(x) - 5.8, y: eY(y) - 5.8, width: 11.6, height: 11.6}, markerStyle(t), {'fill-opacity': .12}));
  
  
}
function ePlus(x, y, t) {
  const px = eX(x), py = eY(y);
  const m = add(pePts, 'path', {d: 'M' + (px - 7) + ' ' + py + 'H' + (px + 7) + 'M' + px + ' ' + (py - 7) + 'V' + (py + 7), stroke: typeColors[t], 'stroke-width': 1.4, 'stroke-opacity': .7, fill: 'none'});
  
  
}
for (let i = 0; i < fastCore.length; i += 2) eTriangle(fastCore[i], fastCore[i + 1], +fastCoreTypes[(i / 2) % fastCoreTypes.length]);
for (let i = 0; i < fastSparse.length; i += 3) eTriangle(fastSparse[i], fastSparse[i + 1], fastSparse[i + 2]);
for (let i = 0; i < slowPoints.length; i += 2) eCircle(slowPoints[i], slowPoints[i + 1], +slowTypes[(i / 2) % slowTypes.length]);
for (let i = 0; i < unchangedPoints.length; i += 2) eSquare(unchangedPoints[i], unchangedPoints[i + 1], +unchangedTypes[(i / 2) % unchangedTypes.length]);
for (let i = 0; i < enrichedPoints.length; i += 2) ePlus(enrichedPoints[i], enrichedPoints[i + 1], +enrichedTypes[(i / 2) % enrichedTypes.length]);
eSquare(unchangedFrameshift[0], unchangedFrameshift[1], 4);
const pe = document.getElementById('pe');
xAxis(pe, 'e', aXTicks, aXLabels, eX, 1132, 1154, 0, 21);
yAxis(pe, 'e', aYTicks, aYLabels, eY, 989, 978.6, 0, 21);
const peLegend = document.getElementById('peLegend');
typeNames.forEach((name, i) => {
  const ly = 832.7 + 36.35 * i;
  const d = add(peLegend, 'circle', {cx: 1646, cy: ly, r: 5.8, fill: typeColors[i]});
  
  
  const t = add(peLegend, 'text', {x: 1676, y: ly + .5, 'dominant-baseline': 'central'}, name);
  
  
});

// ---------- panel f ----------
const pf = document.getElementById('pf');
const fX = i => 1001.6 + 84.8 * i;
const fY = p => 1621.5 - 3.988 * p;
yAxis(pf, 'f', [0, 100], ['0', '100'], fY, 988.4, 977.5, 6, 21);
[fUnchanged, fFast, fSlow, fEnriched].forEach((stack, i) => {
  let cum = 0;
  stack.forEach((v, t) => {
    if (v > 0) {
      const b = add(pf, 'rect', {x: fX(i), y: fY(cum + v), width: 76, height: fY(cum) - fY(cum + v), fill: typeColors[t]});
      
      
    }
    cum += v;
  });
  rotTick(pf, 'f', fX(i) + 38, 1630, 1704.5, 'middle', fClasses[i]);
});

// ---------- panel g ----------
const pg = document.getElementById('pg');
const gX = i => 1490.7 + 118.85 * i;
const gY = v => 1610.4 - 47.1 * v;
yAxis(pg, 'g', gYTicks, gYTicks.map(String), gY, 1419, 1410, 5, 21);
gClasses.forEach((name, i) => {
  const cx = gX(i);
  const fill = [classColors.unchanged, classColors.fast, classColors.slow][i];
  const w = add(pg, 'line', {x1: cx, x2: cx, y1: gY(gHigh[i]), y2: gY(gLow[i]), stroke: '#333', 'stroke-width': 2});
  
  
  const b = add(pg, 'rect', {x: cx - 45, y: gY(gQ3[i]), width: 90, height: gY(gQ1[i]) - gY(gQ3[i]), fill: fill, stroke: '#333', 'stroke-width': 3});
  
  
  const m = add(pg, 'line', {x1: cx - 45, x2: cx + 45, y1: gY(gMedian[i]), y2: gY(gMedian[i]), stroke: '#333', 'stroke-width': 5});
  
  
  gOutliers[i].forEach(v => {
    const o = add(pg, 'circle', {cx: cx, cy: gY(v), r: 2, fill: '#fff', stroke: '#333', 'stroke-width': 1.3});
    
    
  });
  const n = add(pg, 'text', {x: cx, y: gY(0) + 1, 'text-anchor': 'middle', 'dominant-baseline': 'central', 'font-size': 20.5}, gCounts[i]);
  
  
  rotTick(pg, 'g', cx, 1629, 1640, 'end', name);
});
gBracketY.forEach((v, i) => {
  const x0 = gX(gBracketFrom[i]), x1 = gX(gBracketTo[i]), y = gY(v);
  const br = add(pg, 'path', {d: 'M' + x0 + ' ' + (y + 8) + 'V' + y + 'H' + x1 + 'V' + (y + 8), fill: 'none', stroke: '#000', 'stroke-width': 1.4});
  
  
  const st = add(pg, 'text', {x: (x0 + x1) / 2, y: y - 13, 'text-anchor': 'middle', 'dominant-baseline': 'central', 'font-size': 19}, gBracketStars[i]);
  
  
});
</script>
</body>
</html>
